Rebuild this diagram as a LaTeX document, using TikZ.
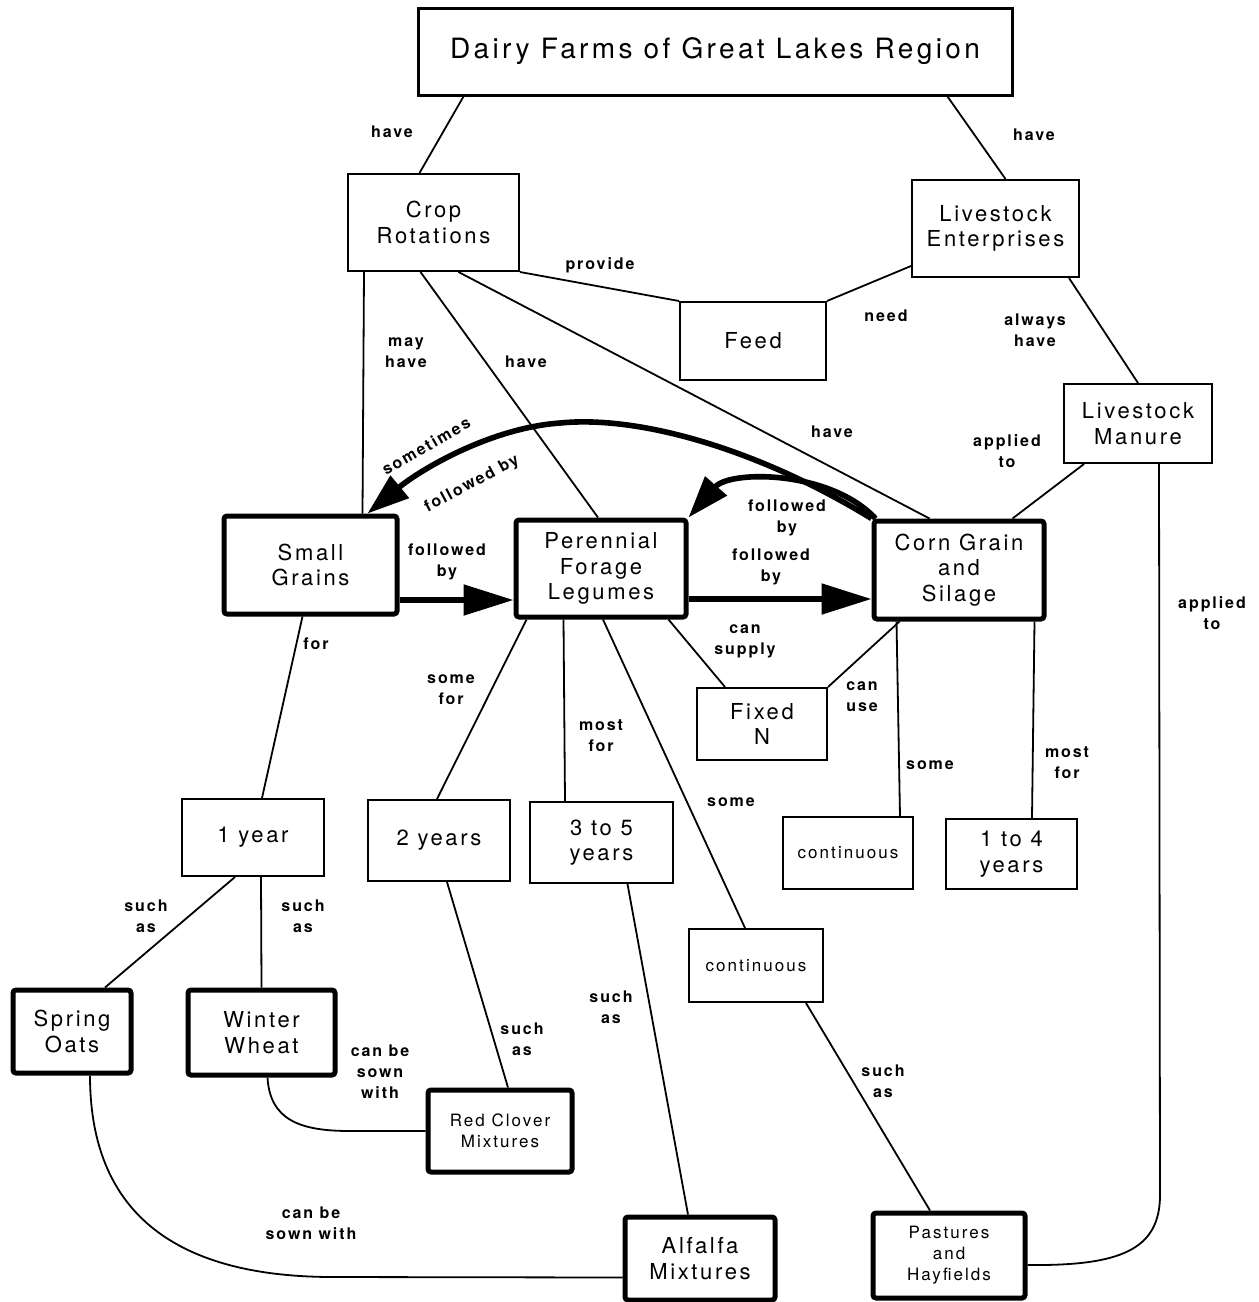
\documentclass[tikz,border=0pt]{standalone}
\usepackage{fontspec}
\setmainfont{TeX Gyre Heros}[LetterSpace=12]
\usetikzlibrary{arrows.meta,calc,positioning}

\tikzset{
  cbox/.style={draw, line width=1pt, inner sep=0pt, align=center, font=\fontsize{11}{12.7}\selectfont},
  cboxb/.style={cbox, line width=2.5pt, rounded corners=1.5pt},
  csmall/.style={font=\fontsize{8.5}{10.5}\selectfont},
  csz/.style 2 args={minimum width=#1*0.5pt, minimum height=#2*0.5pt},
  clbl/.style={inner sep=0pt, align=center, font=\fontsize{8}{10.5}\selectfont\bfseries},
  clink/.style={line width=0.9pt},
  cfollow/.style={line width=2.6pt, -{Triangle[length=25pt,width=15pt]}},
  cback/.style={line width=2.8pt, -{Triangle[length=21pt,width=14pt]}},
}

\begin{document}
\begin{tikzpicture}[x=0.5pt,y=-0.5pt]
\useasboundingbox (0,0) rectangle (1259,1302);

% Boxes
\node[cbox, csz={594}{87}, line width=1.5pt, font=\fontsize{14}{16}\selectfont] (dairy) at (715,51.5) {Dairy Farms of Great Lakes Region};
\node[cbox, csz={171}{97}] (crop) at (433.5,222.5) {Crop\\Rotations};
\node[cbox, csz={167}{97}] (live) at (995.5,228.5) {Livestock\\Enterprises};
\node[cbox, csz={146}{78}] (feed) at (753,341) {Feed};
\node[cbox, csz={148}{79}] (manure) at (1138,423.5) {Livestock\\Manure};
\node[cboxb, csz={173}{98}] (sg) at (310.5,565) {Small\\Grains};
\node[cboxb, csz={170}{97}] (pfl) at (601,568.5) {Perennial\\Forage\\Legumes};
\node[cboxb, csz={170}{98}] (corn) at (959,570) {Corn Grain\\and\\Silage};
\node[cbox, csz={130}{72}] (fixn) at (762,724) {Fixed\\N};
\node[cbox, csz={142}{77}] (oney) at (253,837.5) {1 year};
\node[cbox, csz={142}{81}] (twoy) at (439,840.5) {2 years};
\node[cbox, csz={143}{81}] (threey) at (601.5,842.5) {3 to 5\\years};
\node[cbox, csmall, csz={130}{72}] (contr) at (848,853) {continuous};
\node[cbox, csz={131}{70}] (onefour) at (1011.5,854) {1 to 4\\years};
\node[cbox, csmall, csz={134}{73}] (contm) at (756,965.5) {continuous};
\node[cboxb, csz={118}{83}] (oats) at (72,1031.5) {Spring\\Oats};
\node[cboxb, csz={147}{85}] (wheat) at (261.5,1032.5) {Winter\\Wheat};
\node[cboxb, csmall, csz={144}{82}] (clover) at (500,1131) {Red Clover\\Mixtures};
\node[cboxb, csz={150}{83}] (alfalfa) at (700,1258.5) {Alfalfa\\Mixtures};
\node[cboxb, csmall, csz={152}{85}] (past) at (949,1255.5) {Pastures\\and\\Hayfields};

% Straight Lines
\draw[clink] ($(dairy.south west)+(47,0)$) -- ($(crop.north)+(-14,0)$);
\draw[clink] ($(dairy.south east)+(-66,0)$) -- ($(live.north)+(10,0)$);
\draw[clink] (crop.south east) -- (feed.north west);
\draw[clink] ($(live.south west)+(0,-12)$) -- (feed.north east);
\draw[clink] ($(live.south east)+(-11,0)$) -- (manure.north);
\draw[clink] ($(crop.south west)+(17,0)$) -- ($(sg.north west)+(141,0)$);
\draw[clink] ($(crop.south)+(-13,0)$) -- ($(pfl.north)+(-3,0)$);
\draw[clink] ($(crop.south)+(25,0)$) -- ($(corn.north west)+(58,0)$);
\draw[clink] ($(manure.south west)+(21,0)$) -- ($(corn.north east)+(-34,0)$);
\draw[clink] ($(manure.south west)+(96,0)$) -- (1160,1195) .. controls (1160,1250) and (1120,1266) .. ($(past.east)+(0,9.5)$);
\draw[clink] ($(sg.south)+(-8,0)$) -- ($(oney.north)+(9,0)$);
\draw[clink] ($(pfl.south west)+(13,0)$) -- ($(twoy.north)+(-2,0)$);
\draw[clink] ($(pfl.south west)+(50,0)$) -- ($(threey.north west)+(36,0)$);
\draw[clink] ($(pfl.south)+(2,0)$) -- ($(contm.north)+(-11,0)$);
\draw[clink] ($(pfl.south east)+(-20,0)$) -- ($(fixn.north)+(-37,0)$);
\draw[clink] ($(corn.south west)+(28,0)$) -- (fixn.north east);
\draw[clink] ($(corn.south west)+(25,0)$) -- ($(contr.north east)+(-14,0)$);
\draw[clink] ($(corn.south east)+(-12,0)$) -- ($(onefour.north)+(20.5,0)$);
\draw[clink] ($(oney.south west)+(54,0)$) -- ($(oats.north)+(33,0)$);
\draw[clink] ($(oney.south)+(8,0)$) -- (wheat.north);
\draw[clink] ($(twoy.south)+(8,0)$) -- ($(clover.north)+(8,0)$);
\draw[clink] ($(threey.south)+(26,0)$) -- ($(alfalfa.north)+(-12,0)$);
\draw[clink] ($(contm.south)+(50,0)$) -- ($(past.north)+(-19,0)$);
\draw[clink] ($(wheat.south)+(6,0)$) .. controls (270,1120) and (300,1131) .. (350,1131) -- (clover.west);
\draw[clink] ($(oats.south)+(18,0)$) .. controls (90,1200) and (160,1276) .. (330,1277) -- ($(alfalfa.west)+(0,19)$);

% Followed by arrows
\draw[cfollow] ($(sg.east)+(0,35)$) -- ($(pfl.west)+(0,31.5)$);
\draw[cfollow] ($(pfl.east)+(0,30.5)$) -- ($(corn.west)+(0,29)$);
\draw[cback] ($(corn.north west)+(4,0)$) .. controls (830,470) and (730,470) .. (pfl.north east);
\draw[cback] (corn.north west) .. controls (760,450) and (640,415) .. (560,423) .. controls (490,428) and (420,470) .. ($(sg.north west)+(146,0)$);

% Text Node
\node[clbl] (lhavea) at (392,132) {have};
\node[clbl] (lhaveb) at (1034,135) {have};
\node[clbl] (lprov) at (600,265) {provide};
\node[clbl] (lneed) at (886,316) {need};
\node[clbl] (lalways) at (1035,330) {always\\have};
\node[clbl] (lmay) at (406,353) {may\\have};
\node[clbl] (lhavec) at (526,362) {have};
\node[clbl] (lhaved) at (832,432) {have};
\node[clbl] (lappa) at (1007,451) {applied\\to};
\node[clbl, rotate=30] (lsome) at (426,446) {sometimes};
\node[clbl, rotate=28] (lfola) at (472,484) {followed by};
\node[clbl] (lfolb) at (447,562) {followed\\by};
\node[clbl] (lfolc) at (787,518) {followed\\by};
\node[clbl] (lfold) at (771,567) {followed\\by};
\node[clbl] (lappb) at (1212,613) {applied\\to};
\node[clbl] (lfor) at (316,644) {for};
\node[clbl] (lsupply) at (745,641) {can\\supply};
\node[clbl] (luse) at (862,697) {can\\use};
\node[clbl] (lsomefor) at (451,690) {some\\for};
\node[clbl] (lmostfora) at (601,736) {most\\for};
\node[clbl] (lsomea) at (930,765) {some};
\node[clbl] (lmostforb) at (1067,763) {most\\for};
\node[clbl] (lsomeb) at (731,802) {some};
\node[clbl] (lsucha) at (146,916) {such\\as};
\node[clbl] (lsuchb) at (303,916) {such\\as};
\node[clbl] (lsuchc) at (522,1039) {such\\as};
\node[clbl] (lsuchd) at (611,1007) {such\\as};
\node[clbl] (lsuche) at (883,1081) {such\\as};
\node[clbl] (lsowna) at (380,1072) {can be\\sown\\with};
\node[clbl] (lsownb) at (311,1223) {can be\\sown with};

\end{tikzpicture}
\end{document}
